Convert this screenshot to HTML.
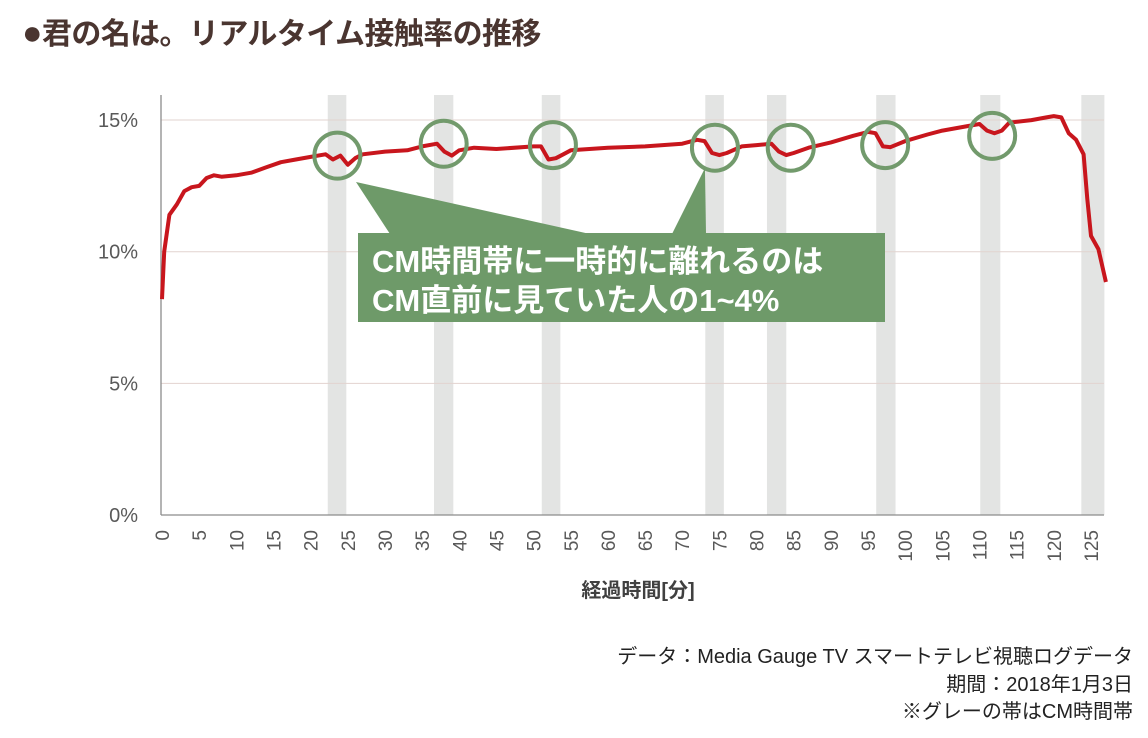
<!DOCTYPE html>
<html><head><meta charset="utf-8">
<style>
body{margin:0;background:#fff;width:1148px;height:738px;overflow:hidden;font-family:"Liberation Sans","Noto Sans CJK JP",sans-serif;}
svg{display:block}
</style></head>
<body>
<svg id="chart" width="1148" height="738">
<text x="22" y="44" font-size="30" font-weight="bold" fill="#4a3530" letter-spacing="-0.6" font-family="Liberation Sans, Noto Sans CJK JP, sans-serif"><tspan font-size="34">●</tspan>君の名は。リアルタイム接触率の推移</text>
<g id="bands"></g>
<g id="grid"></g>
<g id="axes"></g>
<g id="series"></g>
<g id="annot"></g>
<text x="638" y="597" font-size="20" font-weight="bold" fill="#404040" text-anchor="middle" font-family="Liberation Sans, Noto Sans CJK JP, sans-serif">経過時間[分]</text>
<g font-size="20" fill="#222" text-anchor="end" font-family="Liberation Sans, Noto Sans CJK JP, sans-serif">
<text x="1133" y="663">データ：Media Gauge TV  スマートテレビ視聴ログデータ</text>
<text x="1133" y="691">期間：2018年1月3日</text>
<text x="1133" y="718">※グレーの帯はCM時間帯</text>
</g>
</svg>
<script>
const minutes=[0,0.3,1,2,3,4,5,6,7,8,10,12,14,16,18,20,22,23,24,25,26,27,30,33,35,37,38,39,40,42,45,50,51,52,53,54,55,60,65,70,72,73,74,75,76,78,80,82,83,84,85,87,90,93,95,96,97,98,100,103,105,108,110,111,112,113,114,117,119,120,121,122,123,124,124.5,125,126,127];
const rates=[8.2,10,11.4,11.8,12.3,12.45,12.5,12.8,12.9,12.85,12.9,13.0,13.2,13.4,13.5,13.6,13.7,13.5,13.65,13.3,13.55,13.7,13.8,13.85,14.0,14.1,13.8,13.65,13.85,13.95,13.9,14.0,14.0,13.5,13.55,13.7,13.85,13.95,14.0,14.1,14.25,14.2,13.75,13.67,13.75,14.0,14.05,14.1,13.8,13.67,13.75,13.95,14.15,14.4,14.55,14.5,14.0,13.97,14.2,14.45,14.6,14.75,14.85,14.6,14.5,14.6,14.9,15.0,15.1,15.15,15.1,14.5,14.25,13.7,12.0,10.6,10.1,8.85];
const cmStart=[22.3,36.6,51.1,73.1,81.4,96.1,110.1,123.7];
const cmEnd=[24.8,39.2,53.6,75.6,84.0,98.7,112.8,126.8];
const circleMin=[23.6,37.9,52.6,74.4,84.6,97.3,111.7];
const circleVal=[13.65,14.1,14.05,13.95,13.95,14.05,14.4];
const yTicks=[0,5,10,15];
const yTickLabels=["0%","5%","10%","15%"];
const xTicks=[0,5,10,15,20,25,30,35,40,45,50,55,60,65,70,75,80,85,90,95,100,105,110,115,120,125];

const NS="http://www.w3.org/2000/svg";
const X=m=>162+m*7.432;
const Y=v=>515-v*26.33;
function mk(tag,attrs,parent){const e=document.createElementNS(NS,tag);for(const k in attrs)e.setAttribute(k,attrs[k]);parent.appendChild(e);return e;}
const bands=document.getElementById('bands'),grid=document.getElementById('grid'),axes=document.getElementById('axes'),series=document.getElementById('series'),annot=document.getElementById('annot');
cmStart.forEach((s,i)=>{
 const r=mk('rect',{x:X(s),y:95,width:X(cmEnd[i])-X(s),height:420,fill:'#e3e4e3'},bands);
 
 
});
yTicks.forEach((t,i)=>{
 if(t>0){const l=mk('line',{x1:161,x2:1104,y1:Y(t),y2:Y(t),stroke:'#e2d3cf','stroke-width':1},grid);
 
 }
 const tx=mk('text',{x:138,y:Y(t)+7,'font-size':20,fill:'#595959','text-anchor':'end'},axes);
 tx.textContent=yTickLabels[i];
 
 
});
const ya=mk('line',{x1:161,x2:161,y1:95,y2:515,stroke:'#8c8c8c','stroke-width':1.3},axes);


const xa=mk('line',{x1:161,x2:1104,y1:515,y2:515,stroke:'#8c8c8c','stroke-width':1.3},axes);


xTicks.forEach(t=>{
 const tx=mk('text',{x:0,y:0,'font-size':19,fill:'#595959','text-anchor':'end',transform:`translate(${X(t)+7},${530}) rotate(-90)`},axes);
 tx.textContent=t;
 
 
});
const pts=minutes.map((m,i)=>X(m).toFixed(1)+','+Y(rates[i]).toFixed(1)).join(' ');
const pl=mk('polyline',{points:pts,fill:'none',stroke:'#c8161d','stroke-width':4,'stroke-linejoin':'round'},series);


circleMin.forEach((m,i)=>{
 const c=mk('circle',{cx:X(m),cy:Y(circleVal[i]),r:23,fill:'none',stroke:'#729a6c','stroke-width':4},annot);
 
 
});
const p1=mk('polygon',{points:'356,182 390,234 590,234',fill:'#6e9a69'},annot);


const p2=mk('polygon',{points:'705,168 672,234 706,234',fill:'#6e9a69'},annot);


const box=mk('rect',{x:358,y:233,width:527,height:89,fill:'#6e9a69'},annot);


const t1=mk('text',{x:372,y:272,'font-size':31,'font-weight':'bold',fill:'#fff'},annot);
t1.textContent='CM時間帯に一時的に離れるのは';


const t2=mk('text',{x:372,y:311,'font-size':31,'font-weight':'bold',fill:'#fff'},annot);
t2.textContent='CM直前に見ていた人の1~4%';


</script>
</body></html>
